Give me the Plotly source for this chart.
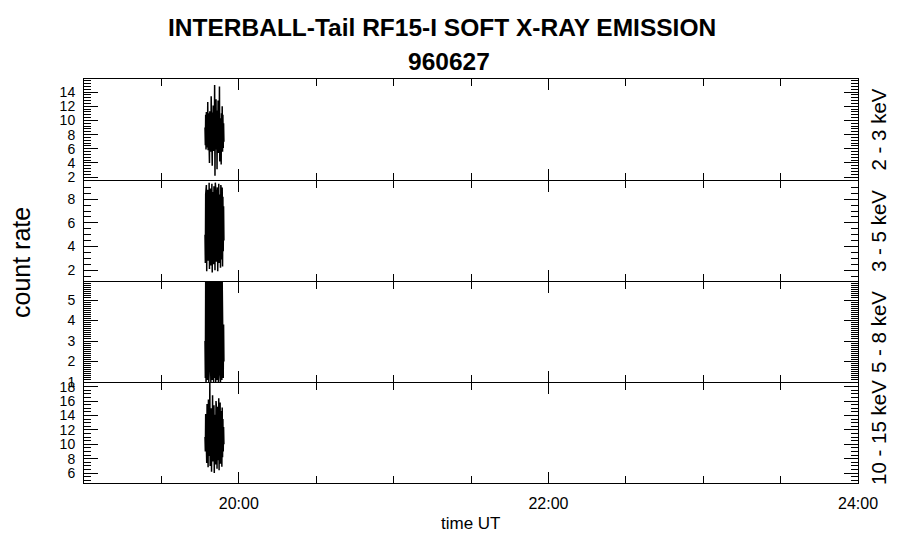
import plotly.graph_objects as go

# time of each sample, seconds after 19:46:54 UT
t_start_h = 19 + 46 / 60 + 54 / 3600
t_sec = [0, 8, 16, 24, 32, 40, 48, 56, 64, 72, 80, 88, 96, 104, 112, 120,
         128, 136, 144, 152, 160, 168, 176, 184, 192, 200, 208, 216, 224, 232,
         240, 248, 256, 264, 272, 280, 288, 296, 304, 312, 320, 328, 336, 344,
         352, 360, 368, 376, 384, 392, 400, 408, 416, 424, 432, 440]

rate_2_3 = [9.0, 6.5, 10.8, 5.9, 11.2, 7.0, 10.1, 6.2, 12.6, 5.8, 11.0, 6.4, 10.5, 4.0,
            11.3, 6.1, 9.8, 5.6, 13.4, 6.8, 10.9, 3.6, 11.1, 6.0, 12.1, 5.7, 10.6, 6.3,
            15.0, 2.2, 11.0, 5.9, 13.0, 6.6, 10.4, 3.1, 11.4, 6.0, 12.8, 5.4, 10.7, 6.2,
            14.8, 4.2, 11.2, 5.8, 10.3, 3.8, 11.0, 6.4, 12.0, 5.6, 10.8, 6.1, 9.6, 7.0]
rate_3_5 = [5.0, 2.6, 8.4, 3.2, 9.2, 1.9, 8.0, 3.4, 8.8, 2.8, 7.6, 3.0, 9.4, 2.1,
            8.3, 3.5, 8.9, 2.4, 7.9, 3.1, 9.3, 1.8, 8.6, 3.3, 8.2, 2.5, 9.1, 3.0,
            7.8, 2.0, 9.4, 3.4, 8.5, 2.7, 8.8, 3.2, 9.0, 1.9, 8.1, 3.0, 9.3, 2.6,
            8.4, 3.5, 7.7, 2.2, 9.2, 3.1, 8.6, 2.9, 9.0, 2.3, 8.2, 3.6, 7.4, 4.5]
rate_5_8 = [3.0, 1.2, 5.9, 1.0, 5.5, 1.6, 5.9, 1.1, 4.8, 1.4, 5.9, 1.0, 5.2, 1.8,
            5.9, 1.3, 4.6, 1.0, 5.9, 1.5, 5.4, 1.1, 5.9, 1.7, 4.9, 1.0, 5.9, 1.2,
            5.7, 1.4, 5.9, 1.0, 5.0, 1.6, 5.9, 1.1, 4.4, 1.3, 5.9, 1.0, 5.6, 1.5,
            5.9, 1.2, 4.7, 1.0, 5.9, 1.4, 5.3, 1.1, 5.9, 1.6, 4.5, 1.2, 3.8, 2.0]
rate_10_15 = [11.0, 9.0, 14.2, 8.2, 13.8, 7.4, 15.6, 8.8, 14.0, 6.8, 16.2, 8.4, 13.6, 9.2,
              18.6, 7.0, 14.4, 8.6, 15.0, 6.2, 13.9, 8.0, 16.8, 7.6, 14.3, 8.9, 15.4, 6.0,
              14.1, 8.3, 13.7, 7.2, 16.0, 8.7, 14.5, 6.6, 15.2, 8.1, 13.8, 7.8, 16.4, 6.4,
              14.2, 8.5, 15.8, 7.3, 13.9, 8.8, 14.6, 6.9, 15.1, 8.2, 13.5, 9.0, 12.4, 10.0]

bands = ["2 - 3 keV", "3 - 5 keV", "5 - 8 keV", "10 - 15 keV"]
series = [rate_2_3, rate_3_5, rate_5_8, rate_10_15]
y_ranges = [[1.6, 15.84], [1.08, 9.54], [1.0, 5.88], [4.63, 18.5]]
y_major = [2, 2, 1, 2]
y_minor = [0.4, 0.5, 0.1, 0.5]

time_ticks = [20, 22, 24]
time_labels = ["20:00", "22:00", "24:00"]

hours = [t_start_h + s / 3600 for s in t_sec]

# the page adds an 8px body margin, so the figure is made smaller and
# every target pixel position is shifted by it
OFF = 8
W, H = 900 - OFF, 548 - OFF


def px(x):
    return (x - OFF) / W


def py(y):
    return 1 - (y - OFF) / H


x_left, x_right = 84, 858
panel_edges = [79, 180, 281, 382, 483]  # pixel rows, top to bottom

fig = go.Figure()
font = dict(family="Liberation Sans, Arial, sans-serif", color="black")

for i, (vals, band) in enumerate(zip(series, bands)):
    n = "" if i == 0 else str(i + 1)
    fig.add_trace(go.Scatter(x=hours, y=vals, mode="lines",
                             line=dict(color="black", width=1.5),
                             xaxis="x" + n, yaxis="y" + n, showlegend=False))
    top, bot = panel_edges[i], panel_edges[i + 1]
    if i > 0:
        top += 1  # so the shared frame line between panels is drawn once
    fig.layout["xaxis" + n] = dict(
        domain=[px(x_left), px(x_right)], range=[19, 24], anchor="y" + n,
        tickmode="array", tickvals=time_ticks, ticktext=time_labels,
        showticklabels=(i == 3), ticks="inside", ticklen=11, tickcolor="black",
        minor=dict(ticks="inside", ticklen=7, tick0=19, dtick=0.5, tickcolor="black"),
        showline=True, linecolor="black", linewidth=1, mirror="allticks",
        showgrid=False, zeroline=False, tickfont=dict(size=16, **font),
        ticklabelstandoff=6,
    )
    fig.layout["yaxis" + n] = dict(
        domain=[py(bot), py(top)], range=y_ranges[i], anchor="x" + n,
        tick0=0, dtick=y_major[i], ticks="inside", ticklen=14, tickcolor="black",
        minor=dict(ticks="inside", ticklen=7, dtick=y_minor[i], tick0=0, tickcolor="black"),
        showline=True, linecolor="black", linewidth=1, mirror="allticks",
        showgrid=False, zeroline=False, tickfont=dict(size=14, **font),
        ticklabelstandoff=5,
    )
    fig.add_annotation(text=band, xref="paper", yref="paper",
                       x=px(878), y=py((top + bot) / 2), textangle=-90,
                       xanchor="center", yanchor="middle",
                       showarrow=False, font=dict(size=20.5, **font))

fig.add_annotation(text="<b>INTERBALL-Tail RF15-I SOFT X-RAY EMISSION</b>",
                   xref="paper", yref="paper", x=px(442), y=py(27),
                   xanchor="center", yanchor="middle",
                   showarrow=False, font=dict(size=24.5, **font))
fig.add_annotation(text="<b>960627</b>", xref="paper", yref="paper",
                   x=px(449), y=py(62), xanchor="center", yanchor="middle",
                   showarrow=False, font=dict(size=24.5, **font))
fig.add_annotation(text="count rate", xref="paper", yref="paper",
                   x=px(21), y=py(263), textangle=-90,
                   xanchor="center", yanchor="middle",
                   showarrow=False, font=dict(size=25, **font))
fig.add_annotation(text="time UT", xref="paper", yref="paper",
                   x=px(471), y=py(523), xanchor="center", yanchor="middle",
                   showarrow=False, font=dict(size=17, **font))

fig.update_layout(width=W, height=H,
                  margin=dict(l=0, r=0, t=0, b=0, autoexpand=False),
                  plot_bgcolor="white", paper_bgcolor="white")

fig.write_html("out.html")
